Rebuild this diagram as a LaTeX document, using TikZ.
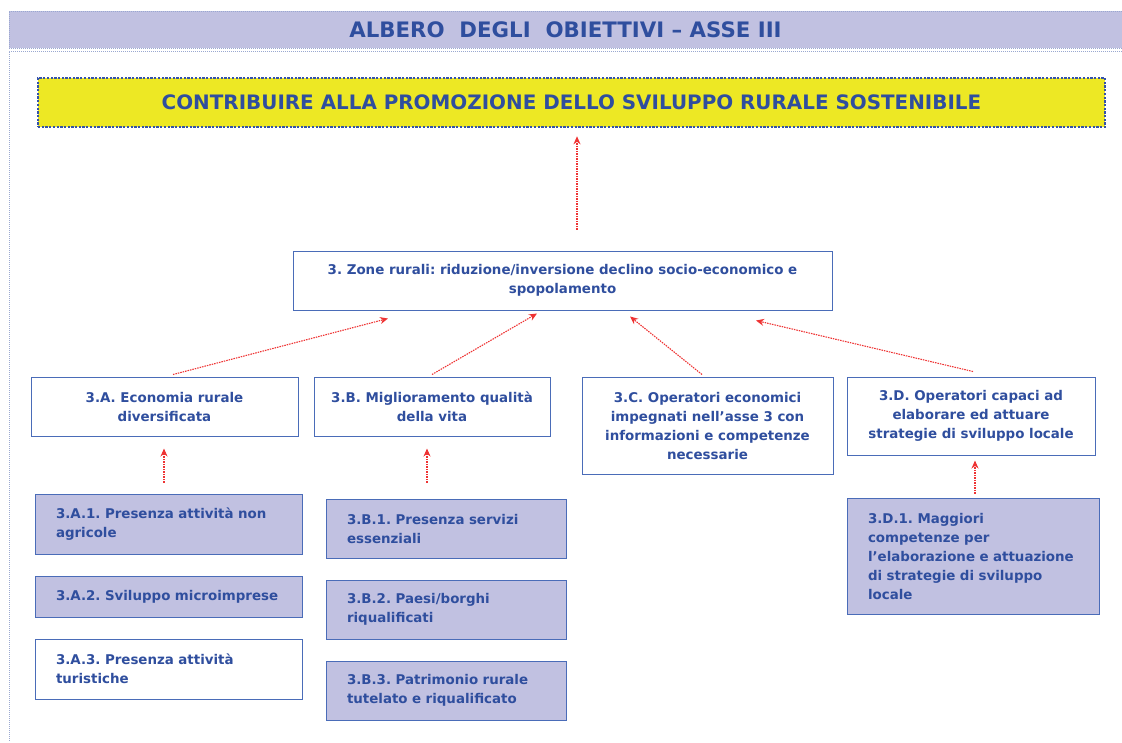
\documentclass[tikz,border=0pt]{standalone}
\usepackage{fontspec}
\setmainfont{DejaVu Sans}
\usetikzlibrary{arrows.meta,calc}
\definecolor{txtblue}{HTML}{2F4E9E}
\definecolor{lav}{HTML}{C1C1E1}
\definecolor{bordblue}{HTML}{4A6CB8}
\definecolor{framec}{HTML}{9AA8D0}
\definecolor{goalyel}{HTML}{EDE824}
\definecolor{goalbord}{HTML}{3552A8}
\definecolor{arrred}{HTML}{EE3333}
\tikzset{
  box/.style={draw=bordblue, line width=1pt, fill=white, inner sep=0pt, align=center, text=txtblue, font=\fontsize{13.4}{19}\selectfont\bfseries\frenchspacing},
  sub/.style={box, fill=lav, align=left, anchor=center},
  arr/.style={draw=arrred, dash pattern=on 1.5pt off 1pt, line width=1.1pt, -{Stealth[length=8pt,width=7pt,fill=arrred]}},
}
\begin{document}
\begin{tikzpicture}[x=1pt,y=-1pt]
\useasboundingbox (0,0) rectangle (1122,742);
% title bar
\node[draw=framec, dash pattern=on 1pt off 1pt, line width=1pt, fill=lav, minimum width=1113pt, minimum height=37pt, inner sep=0pt, text=txtblue, font=\fontsize{21.3}{24}\selectfont\bfseries] (title) at (565.5,29.5) {ALBERO\ \ DEGLI\ \ OBIETTIVI – ASSE III};
\coordinate (ftl) at (9,51);
\coordinate (ftr) at (1122,51);
\coordinate (fbl) at (9,742);
\draw[framec, dash pattern=on 1pt off 1pt, line width=1pt] (ftr) -- (ftl) -- (fbl);
% goal
\node[draw=goalbord, dash pattern=on 2.3pt off 1.4pt, line width=2.6pt, fill=goalyel, minimum width=1067pt, minimum height=49pt, inner sep=0pt, text=txtblue, font=\fontsize{19.9}{24}\selectfont\bfseries] (goal) at (571.5,102.5) {CONTRIBUIRE ALLA PROMOZIONE DELLO SVILUPPO RURALE SOSTENIBILE};
% zone
\node[box, minimum width=539pt, minimum height=59pt] (zone) at (562.5,280.5) {3. Zone rurali: riduzione/inversione declino socio-economico e\\spopolamento};
% level 2
\node[box, minimum width=267pt, minimum height=59pt] (A) at (164.5,406.5) {3.A. Economia rurale\\diversificata};
\node[box, minimum width=236pt, minimum height=59pt] (B) at (432,406.5) {3.B. Miglioramento qualità\\della vita};
\node[box, minimum width=251pt, minimum height=97pt] (C) at (707.5,425.5) {3.C. Operatori economici\\impegnati nell’asse 3 con\\informazioni e competenze\\necessarie};
\node[box, minimum width=248pt, minimum height=78pt] (D) at (971,416) {3.D. Operatori capaci ad\\elaborare ed attuare\\strategie di sviluppo locale};
% level 3
\node[sub, minimum width=267pt, minimum height=60pt, text width=225pt] (A1) at (168.5,524) {3.A.1. Presenza attività non\\agricole};
\node[sub, minimum width=267pt, minimum height=41pt, text width=225pt] (A2) at (168.5,596.5) {3.A.2. Sviluppo microimprese};
\node[sub, fill=white, minimum width=267pt, minimum height=60pt, text width=225pt] (A3) at (168.5,669) {3.A.3. Presenza attività\\turistiche};
\node[sub, minimum width=240pt, minimum height=59pt, text width=198pt] (B1) at (446,528.5) {3.B.1. Presenza servizi\\essenziali};
\node[sub, minimum width=240pt, minimum height=59pt, text width=198pt] (B2) at (446,609.5) {3.B.2. Paesi/borghi\\riqualificati};
\node[sub, minimum width=240pt, minimum height=59pt, text width=198pt] (B3) at (446,690.5) {3.B.3. Patrimonio rurale\\tutelato e riqualificato};
\node[sub, minimum width=252pt, minimum height=116pt, text width=210pt] (D1) at (973,556) {3.D.1. Maggiori\\competenze per\\l’elaborazione e attuazione\\di strategie di sviluppo\\locale};
% arrows
\draw[arr, shorten <=21pt, shorten >=8pt] ([xshift=14.5pt]zone.north) -- ([xshift=5.5pt]goal.south);
\draw[arr] ($(A.north)+(8.5,-2)$) -- ($(zone.south)+(-174.5,8)$);
\draw[arr] ($(B.north)+(0,-2)$) -- ($(zone.south)+(-25.5,3)$);
\draw[arr] ($(C.north)+(-5.5,-2)$) -- ($(zone.south)+(67.5,6)$);
\draw[arr] ($(D.north)+(2,-5)$) -- ($(zone.south)+(193.5,10)$);
\draw[arr, shorten <=11pt, shorten >=12pt] ([xshift=-4.5pt]A1.north) -- ([xshift=-0.5pt]A.south);
\draw[arr, shorten <=16pt, shorten >=12pt] ([xshift=-19pt]B1.north) -- ([xshift=-5pt]B.south);
\draw[arr, shorten <=4pt, shorten >=5pt] ([xshift=2pt]D1.north) -- ([xshift=4pt]D.south);
\end{tikzpicture}
\end{document}
